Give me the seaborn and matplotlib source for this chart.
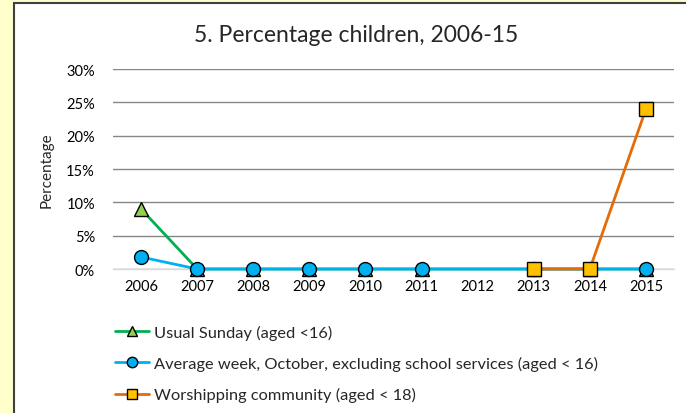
import matplotlib
matplotlib.use('Agg')
import matplotlib.pyplot as plt
from matplotlib.patches import Rectangle
from matplotlib.ticker import FuncFormatter
import seaborn as sns
import pandas as pd

# 数据
years = ['2006', '2007', '2008', '2009', '2010', '2011', '2012', '2013', '2014', '2015']
sunday_years = ['2006', '2007', '2008', '2009', '2010', '2011', '2013', '2014', '2015']
sunday_vals = [0.09, 0, 0, 0, 0, 0, 0, 0, 0]
week_years = ['2006', '2007', '2008', '2009', '2010', '2011', '2013', '2014', '2015']
week_vals = [0.018, 0, 0, 0, 0, 0, 0, 0, 0]
community_years = ['2013', '2014', '2015']
community_vals = [0, 0, 0.24]

labels = ['Usual Sunday (aged <16)',
          'Average week, October, excluding school services (aged < 16)',
          'Worshipping community (aged < 18)']

sns.set_style('white')
plt.rcParams['font.family'] = ['Lato', 'DejaVu Sans']

fig = plt.figure(figsize=(6.86, 4.14), dpi=100)
fig.patch.set_facecolor('#FFFFCC')
# 图表区域白色背景和边框
fig.patches.append(Rectangle((14 / 686, -0.01), 1.0, 1 - 4 / 414 + 0.01,
                             transform=fig.transFigure, facecolor='white',
                             edgecolor='#404040', linewidth=1.5, zorder=-10))

ax = fig.add_axes([113 / 686, 1 - 270 / 414, 561 / 686, 200 / 414])
ax.set_facecolor('white')
ax.set_zorder(1)

pos = {y: i for i, y in enumerate(years)}

series = [
    (sunday_years, sunday_vals, '#00B050', '#92D050', '^', 10),
    (week_years, week_vals, '#00B0F0', '#00B0F0', 'o', 10),
    (community_years, community_vals, '#E36C09', '#FFC000', 's', 9.5),
]
for (yrs, vals, line_c, face_c, mk, ms), lab in zip(series, labels):
    df = pd.DataFrame({'x': [pos[y] for y in yrs], 'v': vals})
    sns.lineplot(data=df, x='x', y='v', ax=ax, color=line_c, linewidth=2,
                 marker=mk, markersize=ms, markerfacecolor=face_c,
                 markeredgecolor='black', markeredgewidth=1, label=lab,
                 clip_on=False, zorder=3)

ax.set_xlim(-0.5, 9.5)
ax.set_ylim(0, 0.30)
ax.set_xticks(range(len(years)))
ax.set_xticklabels(years)
ax.set_yticks([0, 0.05, 0.10, 0.15, 0.20, 0.25, 0.30])
ax.yaxis.set_major_formatter(FuncFormatter(lambda v, p: f'{v * 100:.0f}%'))
ax.tick_params(axis='both', length=0, labelsize=10.5, colors='black')
ax.tick_params(axis='y', pad=13)
ax.tick_params(axis='x', pad=7)
ax.grid(axis='y', color='#868686', linewidth=1)
ax.set_axisbelow(True)
for s in ['top', 'right', 'left']:
    ax.spines[s].set_visible(False)
ax.spines['bottom'].set_color('#D9D9D9')
ax.spines['bottom'].set_linewidth(1)
ax.set_xlabel('')
ax.set_ylabel('')

fig.text(47 / 686, 1 - 170 / 414, 'Percentage', rotation=90, ha='center',
         va='center', fontsize=11)
fig.text(356 / 686, 1 - 35 / 414, '5. Percentage children, 2006-15',
         ha='center', va='center', fontsize=16.5)

ax.legend(loc='upper left', bbox_to_anchor=(115 / 686, 1 - 326 / 414),
          bbox_transform=fig.transFigure, frameon=False, fontsize=11.8,
          handlelength=2.1, handletextpad=0.25, labelspacing=0.98,
          markerscale=0.75, borderpad=0, borderaxespad=0)

fig.savefig('out.png', dpi=100, facecolor=fig.get_facecolor())
